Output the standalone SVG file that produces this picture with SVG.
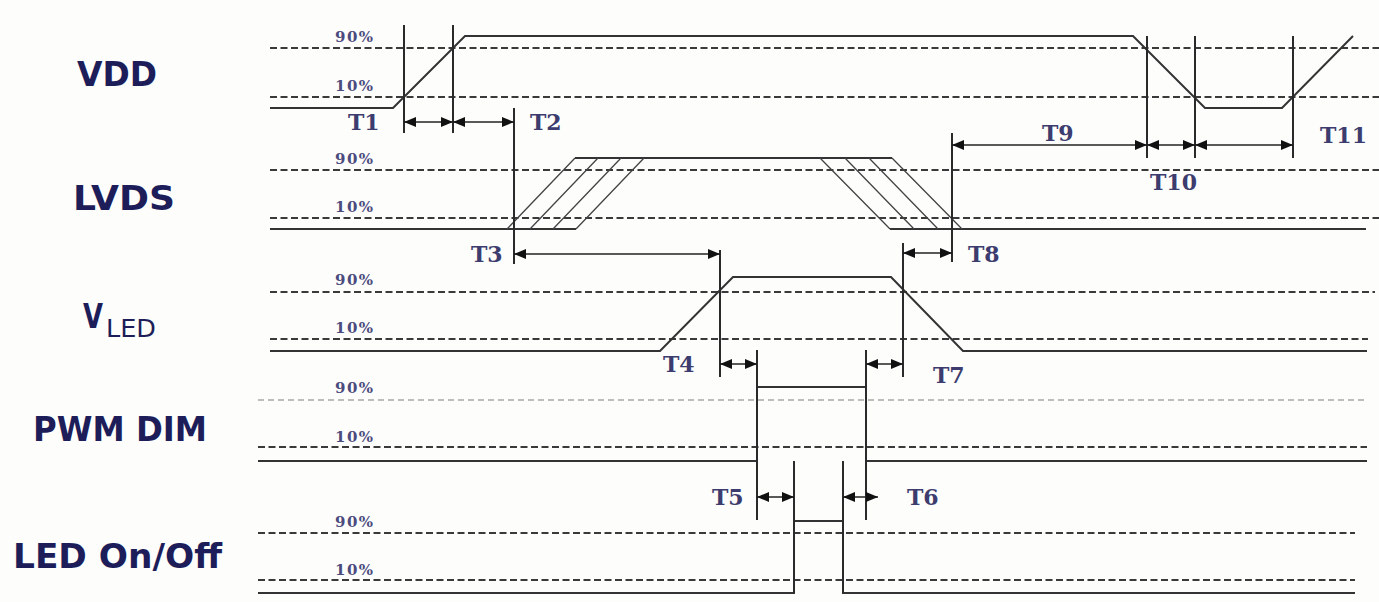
<svg xmlns="http://www.w3.org/2000/svg" width="1379" height="602" viewBox="0 0 1379 602">
<style>
.bg{fill:#fdfdfb}
.dash{stroke:#3a3a3a;stroke-width:2;stroke-dasharray:7 3.5;fill:none}
.dashl{stroke:#a8a8a8;stroke-width:1.6;stroke-dasharray:6 4;fill:none}
.sig{stroke:#333;stroke-width:2;fill:none;stroke-linejoin:miter}
.thin{stroke:#444;stroke-width:1.3;fill:none}
.mark{stroke:#2a2a2a;stroke-width:2;fill:none}
.arr{stroke:#222;stroke-width:1.6;fill:none;marker-start:url(#ah);marker-end:url(#ah)}
.name{font-family:"DejaVu Sans",Verdana,sans-serif;font-weight:bold;font-size:33px;fill:#1d1d5a}
.pct{font-family:"DejaVu Serif","Liberation Serif",serif;font-weight:bold;font-size:15px;fill:#4b4b7e;letter-spacing:1.5px}
.tl{font-family:"DejaVu Serif","Liberation Serif",serif;font-weight:bold;font-size:22px;fill:#3c3c6e}
</style>
<defs>
<marker id="ah" viewBox="0 0 12 10" refX="12" refY="5" markerWidth="12" markerHeight="10" markerUnits="userSpaceOnUse" orient="auto-start-reverse">
<path d="M0,0 L12,5 L0,10 Z" fill="#111"/>
</marker>
</defs>
<rect class="bg" x="0" y="0" width="1379" height="602"/>

<g id="vdd">
<text class="name" x="77" y="86" textLength="80" lengthAdjust="spacingAndGlyphs">VDD</text>
<line class="dash" x1="270" y1="48" x2="1379" y2="48"/>
<line class="dash" x1="270" y1="97" x2="1379" y2="97"/>
<text class="pct" x="335" y="42">90%</text>
<text class="pct" x="335" y="91">10%</text>
<path class="sig" d="M270,108 L393,108 L465,36 L1133,36 L1205,108 L1282,108 L1353,36"/>
</g>

<g id="lvds">
<text class="name" x="73" y="210" textLength="102" lengthAdjust="spacingAndGlyphs">LVDS</text>
<line class="dash" x1="270" y1="170" x2="1379" y2="170"/>
<line class="dash" x1="270" y1="218" x2="1379" y2="218"/>
<text class="pct" x="335" y="164">90%</text>
<text class="pct" x="335" y="212">10%</text>
<path class="sig" d="M270,229 L576,229"/>
<path class="sig" d="M575,158 L892,158"/>
<path class="sig" d="M890,229 L1366,229"/>
<path class="thin" d="M507,229 L575,158 M530,229 L598,158 M553,229 L621,158 M576,229 L644,158"/>
<path class="thin" d="M820,158 L890,229 M845,158 L914,229 M869,158 L938,229 M892,158 L962,229"/>
</g>

<g id="vled">
<text x="83" y="328" textLength="20" lengthAdjust="spacingAndGlyphs" style="font-family:'DejaVu Sans',Verdana,sans-serif;font-weight:bold;font-size:34px;fill:#1d1d5a">V</text>
<text x="106" y="337" textLength="50" lengthAdjust="spacingAndGlyphs" style="font-family:'DejaVu Sans',Verdana,sans-serif;font-size:24px;fill:#1d1d5a">LED</text>
<line class="dash" x1="270" y1="292" x2="1375" y2="292"/>
<line class="dash" x1="270" y1="339" x2="1368" y2="339"/>
<text class="pct" x="335" y="285">90%</text>
<text class="pct" x="335" y="333">10%</text>
<path class="sig" d="M270,351 L660,351 L733,277 L891,277 L963,351 L1367,351"/>
</g>

<g id="pwm">
<text class="name" x="33" y="441" textLength="174" lengthAdjust="spacingAndGlyphs">PWM DIM</text>
<line class="dashl" x1="258" y1="400" x2="1367" y2="400"/>
<line class="dash" x1="258" y1="447" x2="1367" y2="447"/>
<text class="pct" x="335" y="393">90%</text>
<text class="pct" x="335" y="442">10%</text>
<path class="sig" d="M258,461 L757,461 L757,387 L866,387 L866,461 L1367,461"/>
</g>

<g id="led">
<text class="name" x="13" y="568" textLength="209" lengthAdjust="spacingAndGlyphs">LED On/Off</text>
<line class="dash" x1="258" y1="533" x2="1355" y2="533"/>
<line class="dash" x1="258" y1="580" x2="1355" y2="580"/>
<text class="pct" x="335" y="527">90%</text>
<text class="pct" x="335" y="575">10%</text>
<path class="sig" d="M258,593 L794,593 L794,521 L843,521 L843,593 L1355,593"/>
</g>

<g id="connectors">
<line class="mark" x1="404" y1="25" x2="404" y2="133"/>
<line class="mark" x1="453" y1="25" x2="453" y2="133"/>
<line class="mark" x1="514" y1="108" x2="514" y2="264"/>
<line class="mark" x1="720" y1="250" x2="720" y2="377"/>
<line class="mark" x1="903" y1="243" x2="903" y2="377"/>
<line class="mark" x1="952" y1="133" x2="952" y2="262"/>
<line class="mark" x1="1147" y1="36" x2="1147" y2="158"/>
<line class="mark" x1="1195" y1="36" x2="1195" y2="158"/>
<line class="mark" x1="1293" y1="36" x2="1293" y2="158"/>
<line class="mark" x1="757" y1="350" x2="757" y2="520"/>
<line class="mark" x1="866" y1="350" x2="866" y2="520"/>
<line class="mark" x1="794" y1="461" x2="794" y2="593"/>
<line class="mark" x1="843" y1="461" x2="843" y2="593"/>

<line class="arr" x1="404" y1="122" x2="453" y2="122"/>
<line class="arr" x1="453" y1="122" x2="514" y2="122"/>
<line class="arr" x1="514" y1="254" x2="720" y2="254"/>
<line class="arr" x1="903" y1="253" x2="952" y2="253"/>
<line class="arr" x1="952" y1="145" x2="1147" y2="145"/>
<line class="arr" x1="1147" y1="145" x2="1195" y2="145"/>
<line class="arr" x1="1195" y1="145" x2="1293" y2="145"/>
<line class="arr" x1="720" y1="364" x2="757" y2="364"/>
<line class="arr" x1="866" y1="364" x2="903" y2="364"/>
<line class="arr" x1="757" y1="497" x2="794" y2="497"/>
<line class="arr" x1="843" y1="497" x2="878" y2="497"/>

<text class="tl" x="348" y="130">T1</text>
<text class="tl" x="530" y="130">T2</text>
<text class="tl" x="471" y="262">T3</text>
<text class="tl" x="663" y="372">T4</text>
<text class="tl" x="712" y="505">T5</text>
<text class="tl" x="907" y="505">T6</text>
<text class="tl" x="933" y="383">T7</text>
<text class="tl" x="968" y="262">T8</text>
<text class="tl" x="1042" y="141">T9</text>
<text class="tl" x="1150" y="190">T10</text>
<text class="tl" x="1320" y="143">T11</text>
</g>
</svg>
